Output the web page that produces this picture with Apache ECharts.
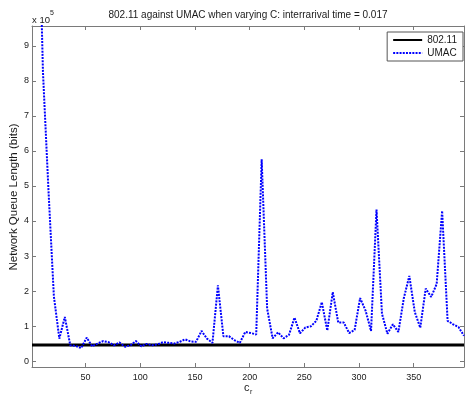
<!DOCTYPE html>
<html>
<head>
<meta charset="utf-8">
<script src="https://cdn.jsdelivr.net/npm/echarts@6/dist/echarts.min.js"></script>
<style>
html,body{margin:0;padding:0;background:#fff;}
#chart{width:466px;height:396px;}
</style>
</head>
<body>
<div id="chart"></div>
<script>
const titleText = '802.11 against UMAC when varying C: interrarival time = 0.017';
const yAxisTitle = 'Network Queue Length (bits)';
const seriesNames = ['802.11', 'UMAC'];

const cValues = [
  1, 6, 11, 16, 21, 26, 31, 36, 41, 46,
  51, 56, 61, 66, 71, 76, 81, 86, 91, 96,
  101, 106, 111, 116, 121, 126, 131, 136, 141, 146,
  151, 156, 161, 166, 171, 176, 181, 186, 191, 196,
  201, 206, 211, 216, 221, 226, 231, 236, 241, 246,
  251, 256, 261, 266, 271, 276, 281, 286, 291, 296,
  301, 306, 311, 316, 321, 326, 331, 336, 341, 346,
  351, 356, 361, 366, 371, 376, 381, 386, 391, 396
];

const umacBits = [
  1800000, 1470000, 827000, 492000, 185000, 64000, 126000, 45000, 43000, 37000,
  67000, 42000, 50000, 57000, 54000, 45000, 53000, 41000, 45000, 57000,
  42000, 49000, 45000, 48000, 54000, 52000, 50000, 55000, 62000, 56000,
  55000, 86000, 64000, 52000, 216000, 71000, 71000, 60000, 52000, 83000,
  80000, 76000, 576000, 150000, 65000, 82000, 65000, 75000, 124000, 79000,
  96000, 99000, 115000, 168000, 87000, 197000, 110000, 110000, 80000, 89000,
  180000, 144000, 86000, 433000, 135000, 78000, 105000, 83000, 180000, 243000,
  140000, 95000, 207000, 183000, 220000, 429000, 115000, 105000, 97000, 72000
];

const wifiBits = [
  45700, 45700, 45700, 45700, 45700, 45700, 45700, 45700, 45700, 45700,
  45700, 45700, 45700, 45700, 45700, 45700, 45700, 45700, 45700, 45700,
  45700, 45700, 45700, 45700, 45700, 45700, 45700, 45700, 45700, 45700,
  45700, 45700, 45700, 45700, 45700, 45700, 45700, 45700, 45700, 45700,
  45700, 45700, 45700, 45700, 45700, 45700, 45700, 45700, 45700, 45700,
  45700, 45700, 45700, 45700, 45700, 45700, 45700, 45700, 45700, 45700,
  45700, 45700, 45700, 45700, 45700, 45700, 45700, 45700, 45700, 45700,
  45700, 45700, 45700, 45700, 45700, 45700, 45700, 45700, 45700, 45700
];

const xMin = 1, xMax = 396;
const yMin = -17000, yMax = 957000;
const yScale = 100000;

const FONT = '"Liberation Sans", Arial, Helvetica, sans-serif';
const AXIS_COLOR = '#7a7a7a';
const TEXT_COLOR = '#1a1a1a';

const chart = echarts.init(document.getElementById('chart'), null, {renderer: 'canvas'});

function pairs(xs, ys) { return xs.map((x, i) => [x, ys[i]]); }

const baseX = {
  type: 'value', min: xMin, max: xMax, splitNumber: 8,
  axisLine: {show: true, onZero: false, lineStyle: {color: AXIS_COLOR, width: 1}},
  axisTick: {show: true, inside: true, length: 4, lineStyle: {color: AXIS_COLOR}},
  splitLine: {show: false}
};
const baseY = {
  type: 'value', min: yMin, max: yMax, splitNumber: 10,
  axisLine: {show: true, onZero: false, lineStyle: {color: AXIS_COLOR, width: 1}},
  axisTick: {show: true, inside: true, length: 4, lineStyle: {color: AXIS_COLOR}},
  splitLine: {show: false}
};

const option = {
  backgroundColor: '#ffffff',
  animation: false,
  textStyle: {fontFamily: FONT},
  title: {
    text: titleText, left: 248, top: 10, padding: 0, textAlign: 'center',
    textStyle: {fontSize: 10, fontWeight: 'normal', color: TEXT_COLOR, fontFamily: FONT}
  },
  grid: {left: 32, right: 2, top: 26, bottom: 29, containLabel: false, outerBoundsMode: 'none'},
  legend: {
    data: seriesNames, orient: 'vertical', right: 3, top: 32,
    itemWidth: 29, itemHeight: 10, itemGap: 3, padding: [3, 6, 3, 5],
    backgroundColor: '#ffffff', borderColor: '#555', borderWidth: 1,
    itemStyle: {opacity: 0, borderWidth: 0},
    textStyle: {fontSize: 10, color: TEXT_COLOR, fontFamily: FONT}
  },
  xAxis: [
    Object.assign({}, baseX, {
      position: 'bottom',
      axisLabel: {
        show: true, margin: 6, fontSize: 9, color: TEXT_COLOR, fontFamily: FONT,
        showMinLabel: false, showMaxLabel: false,
        formatter: v => (v % 50 === 0 ? String(v) : '')
      }
    }),
    Object.assign({}, baseX, {position: 'top', axisLabel: {show: false}})
  ],
  yAxis: [
    Object.assign({}, baseY, {
      position: 'left',
      axisLabel: {
        show: true, margin: 3, fontSize: 9, color: TEXT_COLOR, fontFamily: FONT,
        showMinLabel: false, showMaxLabel: false,
        formatter: v => (v % yScale === 0 ? String(v / yScale) : '')
      }
    }),
    Object.assign({}, baseY, {position: 'right', axisLabel: {show: false}})
  ],
  graphic: [
    {type: 'text', x: 13.5, y: 197, rotation: Math.PI / 2,
     style: {text: yAxisTitle, fontSize: 11.5, fill: TEXT_COLOR, fontFamily: FONT, align: 'center', verticalAlign: 'middle'}},
    {type: 'text', left: 32, top: 15, style: {text: 'x 10', fontSize: 9.5, fill: TEXT_COLOR, fontFamily: FONT}},
    {type: 'text', left: 50, top: 10, style: {text: '5', fontSize: 7, fill: TEXT_COLOR, fontFamily: FONT}},
    {type: 'text', left: 244, top: 382, style: {text: 'c', fontSize: 11, fill: TEXT_COLOR, fontFamily: FONT}},
    {type: 'text', left: 250, top: 389, style: {text: 'r', fontSize: 7, fill: TEXT_COLOR, fontFamily: FONT}}
  ],
  series: [
    {
      name: seriesNames[0], type: 'line', xAxisIndex: 0, yAxisIndex: 0,
      data: pairs(cValues, wifiBits), symbol: 'none', showSymbol: false,
      lineStyle: {color: '#000000', width: 3, type: 'solid'},
      itemStyle: {color: '#000000'}, clip: true
    },
    {
      name: seriesNames[1], type: 'line', xAxisIndex: 0, yAxisIndex: 0,
      data: pairs(cValues, umacBits), symbol: 'none', showSymbol: false,
      lineStyle: {color: '#0000ff', width: 2, type: [2, 1.2]},
      itemStyle: {color: '#0000ff'}, clip: true
    }
  ]
};
chart.setOption(option);
</script>
</body>
</html>
